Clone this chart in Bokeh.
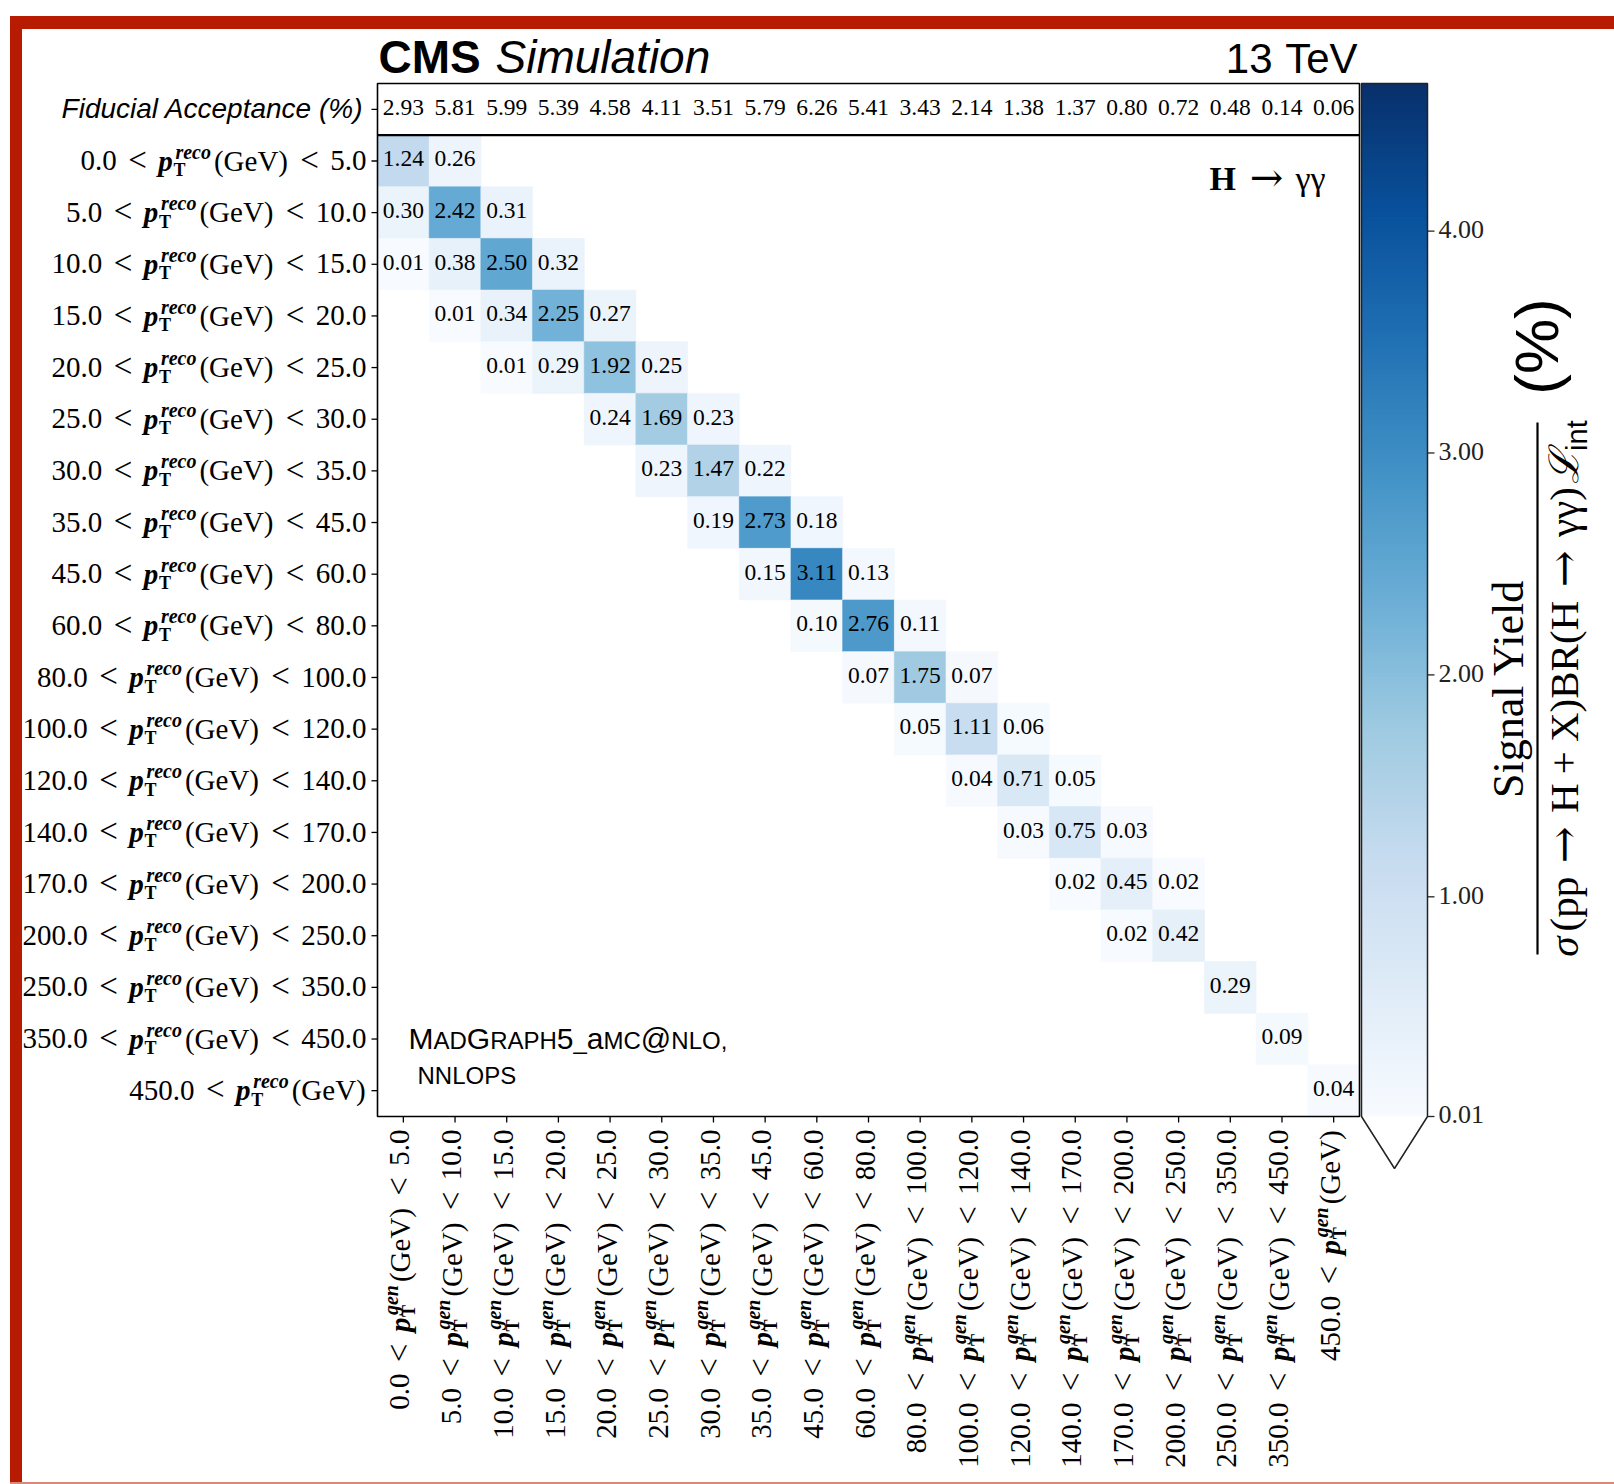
import math
import numpy as np
from bokeh.plotting import figure
from bokeh.models import ColumnDataSource, Range1d, LinearColorMapper
from bokeh.core.properties import value
from bokeh.palettes import Blues256
from bokeh.embed import file_html
from bokeh.resources import INLINE

# ---------------------------------------------------------------- data
# pT bin edges (GeV) shared by the gen-level and reco-level categories
bin_low = ["0.0", "5.0", "10.0", "15.0", "20.0", "25.0", "30.0", "35.0", "45.0",
           "60.0", "80.0", "100.0", "120.0", "140.0", "170.0", "200.0", "250.0",
           "350.0", "450.0"]
bin_high = ["5.0", "10.0", "15.0", "20.0", "25.0", "30.0", "35.0", "45.0", "60.0",
            "80.0", "100.0", "120.0", "140.0", "170.0", "200.0", "250.0", "350.0",
            "450.0", ""]

fiducial_acceptance = [2.93, 5.81, 5.99, 5.39, 4.58, 4.11, 3.51, 5.79, 6.26, 5.41,
                       3.43, 2.14, 1.38, 1.37, 0.80, 0.72, 0.48, 0.14, 0.06]

# non-empty cells of the response matrix: reco bin, gen bin, signal yield (%)
cell_reco = [0, 0,
             1, 1, 1,
             2, 2, 2, 2,
             3, 3, 3, 3,
             4, 4, 4, 4,
             5, 5, 5,
             6, 6, 6,
             7, 7, 7,
             8, 8, 8,
             9, 9, 9,
             10, 10, 10,
             11, 11, 11,
             12, 12, 12,
             13, 13, 13,
             14, 14, 14,
             15, 15,
             16,
             17,
             18]
cell_gen = [0, 1,
            0, 1, 2,
            0, 1, 2, 3,
            1, 2, 3, 4,
            2, 3, 4, 5,
            4, 5, 6,
            5, 6, 7,
            6, 7, 8,
            7, 8, 9,
            8, 9, 10,
            9, 10, 11,
            10, 11, 12,
            11, 12, 13,
            12, 13, 14,
            13, 14, 15,
            14, 15,
            16,
            17,
            18]
cell_yield = [1.24, 0.26,
              0.30, 2.42, 0.31,
              0.01, 0.38, 2.50, 0.32,
              0.01, 0.34, 2.25, 0.27,
              0.01, 0.29, 1.92, 0.25,
              0.24, 1.69, 0.23,
              0.23, 1.47, 0.22,
              0.19, 2.73, 0.18,
              0.15, 3.11, 0.13,
              0.10, 2.76, 0.11,
              0.07, 1.75, 0.07,
              0.05, 1.11, 0.06,
              0.04, 0.71, 0.05,
              0.03, 0.75, 0.03,
              0.02, 0.45, 0.02,
              0.02, 0.42,
              0.29,
              0.09,
              0.04]

colorbar_ticks = [0.01, 1.0, 2.0, 3.0, 4.0]

# ---------------------------------------------------------------- geometry
W, H = 1614, 1484
FRAME_L, FRAME_R = 377, 1359          # matrix frame, pixels
FRAME_T, FRAME_B = 83, 1116           # acceptance strip on top of the matrix
N = len(bin_low)
CW = (FRAME_R - FRAME_L) / N          # pixels per gen bin
CH = (FRAME_B - FRAME_T) / (N + 1)    # pixels per reco bin


def X(px):
    return (px - FRAME_L) / CW


def Y(py):
    return -1 + (py - FRAME_T) / CH


SERIF = "Liberation Serif"
SANS = "Liberation Sans"
ARROW = "DejaVu Serif"
RED = "#b71c02"

p = figure(width=W, height=H, x_range=Range1d(X(0), X(W)), y_range=Range1d(Y(H), Y(0)),
           output_backend="svg", toolbar_location=None, x_axis_type=None, y_axis_type=None,
           min_border=0, title_location=None, outline_line_color=None,
           background_fill_color="white", border_fill_color="white")

# ---------------------------------------------------------------- colour scale
vmin = 0.01
vmax = 1.5 * max(cell_yield)
mapper = LinearColorMapper(palette=list(reversed(Blues256)), low=vmin, high=vmax)
cmap = {"field": "v", "transform": mapper}

# ---------------------------------------------------------------- page frame
p.quad(left=X(10), right=X(W), top=Y(16), bottom=Y(28), color=RED)
p.quad(left=X(10), right=X(21), top=Y(16), bottom=Y(H), color=RED)
p.quad(left=X(10), right=X(W), top=Y(H - 2), bottom=Y(H), color="#d9887a")

# ---------------------------------------------------------------- matrix cells
cells = ColumnDataSource(dict(
    x=[g + 0.5 for g in cell_gen],
    y=[r + 0.5 for r in cell_reco],
    v=cell_yield,
    label=[f"{v:.2f}" for v in cell_yield],
))
p.rect(x="x", y="y", width=1, height=1, source=cells,
       fill_color=cmap, line_color=cmap, line_width=0.6)

# frame of acceptance strip + matrix
p.quad(left=0, right=N, top=-1, bottom=N, fill_color=None, line_color="black", line_width=1.6)
p.segment(x0=0, y0=0, x1=N, y1=0, line_color="black", line_width=2.2)

# tick marks
row_centres = [-0.5] + [r + 0.5 for r in range(N)]
p.segment(x0=[X(FRAME_L - 6)] * len(row_centres), x1=[0] * len(row_centres),
          y0=row_centres, y1=row_centres, line_color="black", line_width=1.3)
col_centres = [c + 0.5 for c in range(N)]
p.segment(x0=col_centres, x1=col_centres, y0=[N] * N, y1=[Y(FRAME_B + 6)] * N,
          line_color="black", line_width=1.3)

# ---------------------------------------------------------------- colour bar
CB_L, CB_R = X(1361), X(1427)


def cb_y(v):
    return N - (N + 1) * (np.asarray(v) - vmin) / (vmax - vmin)


levels = np.linspace(vmin, vmax, 257)
step = levels[1] - levels[0]
# each slice overlaps the next one a little so that no seams show
bar = ColumnDataSource(dict(bottom=cb_y(levels[:-1]),
                            top=cb_y(np.minimum(levels[1:] + 0.6 * step, vmax)),
                            v=0.5 * (levels[:-1] + levels[1:])))
p.quad(left=CB_L, right=CB_R, bottom="bottom", top="top", source=bar,
       fill_color=cmap, line_color=None)
p.patch(x=[CB_L, CB_R, CB_R, 0.5 * (CB_L + CB_R), CB_L, CB_L],
        y=[-1, -1, N, Y(1168), N, -1],
        fill_color=None, line_color="#222222", line_width=1.5)
tick_y = [float(t) for t in cb_y(colorbar_ticks)]
p.segment(x0=[CB_R] * len(tick_y), x1=[X(1434)] * len(tick_y), y0=tick_y, y1=tick_y,
          line_color="#222222", line_width=1.3)

# fraction bar of the colour-bar title
p.segment(x0=X(1537), y0=Y(422), x1=X(1537), y1=Y(954), line_color="black", line_width=2.2)

# ---------------------------------------------------------------- texts
texts = {}


def put(x, y, text, font, style, size, align="left", angle=0.0, xo=0.0, yo=0.0,
        color="black"):
    # (xo, yo) place the text baseline; shift it to the anchor used by the renderer
    corr = 5 + 0.22 * size
    if angle == 0.0:
        yo -= corr
    else:
        xo -= corr
    key = (font, style, size, align, angle, color)
    d = texts.setdefault(key, dict(x=[], y=[], text=[], xo=[], yo=[]))
    d["x"].append(x)
    d["y"].append(y)
    d["text"].append(text)
    d["xo"].append(xo)
    d["yo"].append(yo)


# cell values and acceptance strip
for x, y, lab in zip(cells.data["x"], cells.data["y"], cells.data["label"]):
    put(x, y, lab, SERIF, "normal", 23.5, "center", yo=8)
for c, acc in enumerate(fiducial_acceptance):
    put(c + 0.5, -0.5, f"{acc:.2f}", SERIF, "normal", 23.5, "center", yo=8)

# pT category labels: "lo < p_T^level (GeV) < hi"
F_TICK, F_SCRIPT, F_SUB, F_REL, REL = 29, 20, 18, 33, 1.43
BI_W = {"r": .389, "e": .444, "c": .444, "o": .5, "g": .5, "n": .556}


def num_w(s):
    return sum(.5 if ch.isdigit() else .25 for ch in s) * F_TICK


def pt_label(lo, hi, level):
    segs = []
    s = 0.0
    segs.append((lo, "normal", F_TICK, s, 0, "left"))
    s += num_w(lo)
    segs.append(("<", "normal", F_REL, s + REL * F_TICK / 2, 0, "center"))
    s += REL * F_TICK
    segs.append(("p", "bold italic", F_TICK, s, 0, "left"))
    s += .52 * F_TICK
    segs.append(("T", "bold", F_SUB, s, -7, "left"))
    segs.append((level, "bold italic", F_SCRIPT, s + 2, 11, "left"))
    s += sum(BI_W[ch] for ch in level) * F_SCRIPT + 5
    segs.append(("(GeV)", "normal", F_TICK, s, 0, "left"))
    s += 2.58 * F_TICK
    if hi:
        segs.append(("<", "normal", F_REL, s + REL * F_TICK / 2, 0, "center"))
        s += REL * F_TICK
        segs.append((hi, "normal", F_TICK, s, 0, "left"))
        s += num_w(hi)
    return segs, s


for r in range(N):
    segs, tot = pt_label(bin_low[r], bin_high[r], "reco")
    for text, style, size, s, rise, align in segs:
        put(0, r + 0.5, text, SERIF, style, size, align, xo=-11 - tot + s, yo=11 - rise)

for c in range(N):
    segs, tot = pt_label(bin_low[c], bin_high[c], "gen")
    for text, style, size, s, rise, align in segs:
        put(c + 0.5, N, text, SERIF, style, size, align, angle=math.pi / 2,
            xo=8 - rise, yo=13 + tot - s)

put(0, -0.5, "Fiducial Acceptance (%)", SANS, "italic", 28, "right", xo=-14, yo=10)

# header
put(X(378), Y(72), "CMS", SANS, "bold", 46)
put(X(495), Y(72), "Simulation", SANS, "italic", 46)
put(X(1357), Y(72), "TeV", SANS, "normal", 42, "right")
put(X(1272), Y(72), "13", SANS, "normal", 42, "right")

# decay channel
put(X(1209), Y(190), "H", SERIF, "bold", 34)
put(X(1266), Y(190), "\u2192", ARROW, "normal", 40, "center")
put(X(1295), Y(190), "\u03b3\u03b3", SERIF, "normal", 34)

# generator note (small caps set by hand)
SC_BIG, SC_SMALL = 30, 24
SANS_W = {"M": .833, "A": .667, "D": .722, "G": .778, "R": .722, "P": .667, "H": .722,
          "5": .556, "_": .556, "a": .556, "C": .722, "@": 1.015, "N": .722, "L": .556,
          "O": .778, ",": .278, "S": .667}
gen_note = [("M", SC_BIG), ("AD", SC_SMALL), ("G", SC_BIG), ("RAPH", SC_SMALL),
            ("5", SC_BIG), ("_", SC_SMALL), ("a", SC_BIG), ("MC", SC_SMALL),
            ("@", SC_BIG), ("NLO,", SC_SMALL)]
px = 408.0
for text, size in gen_note:
    put(X(px), Y(1050), text, SANS, "normal", size)
    px += sum(SANS_W[ch] for ch in text) * size
put(X(417), Y(1085), "NNLOPS", SANS, "normal", SC_SMALL)

# colour-bar tick labels
for t, ty in zip(colorbar_ticks, tick_y):
    put(X(1438), ty, f"{t:.2f}", SERIF, "normal", 26, yo=9, color="#222222")

# colour-bar title: Signal Yield / (sigma(pp->H+X) BR(H->gg) L_int)  (%)
VERT = math.pi / 2
put(X(1523), Y(688), "Signal Yield", SERIF, "normal", 44, "center", angle=VERT)
F_CB = 41
den = [("\u03c3", SERIF, "italic", F_CB, .62, "left", 0),
       ("(pp", SERIF, "normal", F_CB, 1.333, "left", 0),
       ("\u2192", ARROW, "normal", 44, 1.556, "center", 0),
       ("H", SERIF, "normal", F_CB, .722, "left", 0),
       ("+", SERIF, "normal", F_CB, 1.008, "center", 0),
       ("X)BR(H", SERIF, "normal", F_CB, 3.444, "left", 0),
       ("\u2192", ARROW, "normal", 44, 1.556, "center", 0),
       ("\u03b3\u03b3)", SERIF, "normal", F_CB, 1.3, "left", 0),
       ("\u2112", "DejaVu Serif", "italic", F_CB, .8, "left", 0),
       ("int", SANS, "normal", 29, .75, "left", -10)]
tot = sum(d[4] for d in den) * F_CB
s = 0.0
for text, font, style, size, adv, align, rise in den:
    pos = s + (adv * F_CB / 2 if align == "center" else 0)
    put(X(1578 - rise), Y(688 + tot / 2 - pos), text, font, style, size, align, angle=VERT)
    s += adv * F_CB
put(X(1555), Y(346), "(%)", SANS, "normal", 62, "center", angle=VERT)

for (font, style, size, align, angle, color), d in texts.items():
    p.text(x="x", y="y", text="text", x_offset="xo", y_offset="yo",
           source=ColumnDataSource(d), text_font=value(font),
           text_font_style=value(style), text_font_size=value(f"{size}px"),
           text_align=value(align), text_baseline=value("alphabetic"),
           angle=angle, text_color=color)

open("out.html", "w").write(file_html(p, INLINE))
